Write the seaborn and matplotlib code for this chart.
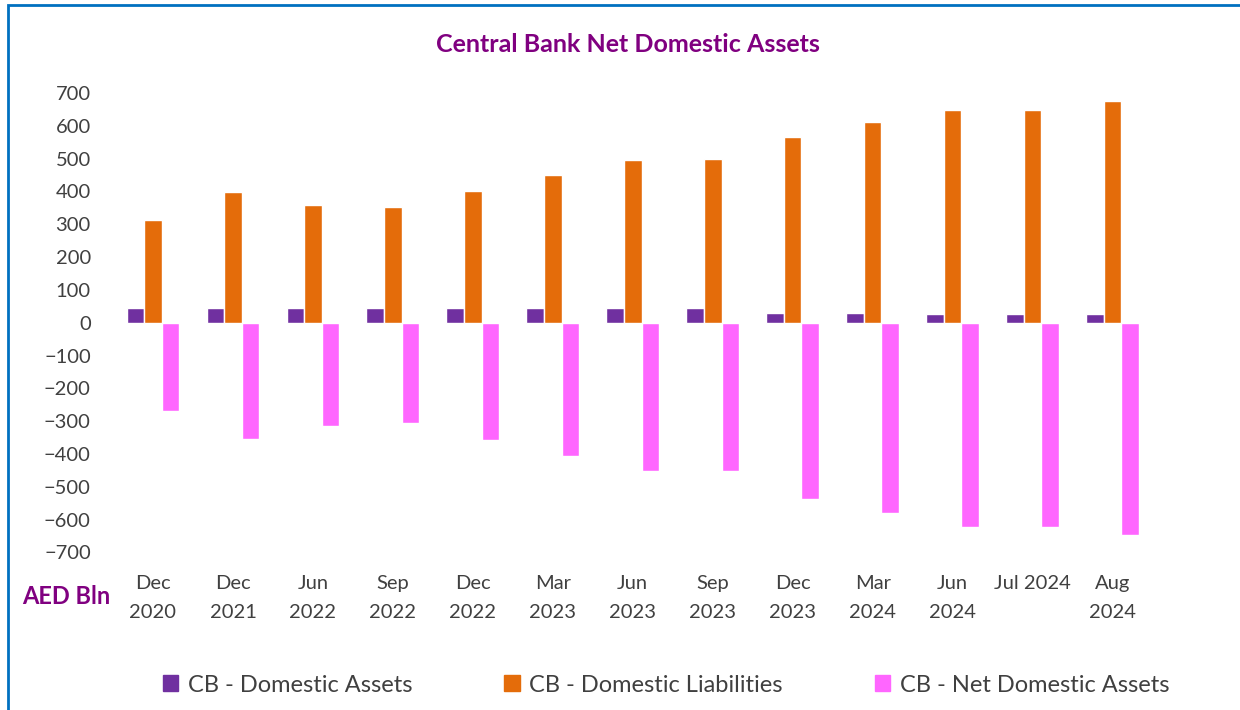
import pandas as pd
import seaborn as sns
import matplotlib.pyplot as plt
from matplotlib.patches import Rectangle

sns.set_style('white')
plt.rcParams['font.family'] = ['Lato', 'DejaVu Sans']

# data (AED Bln)
periods = ['Dec\n2020', 'Dec\n2021', 'Jun\n2022', 'Sep\n2022', 'Dec\n2022', 'Mar\n2023',
           'Jun\n2023', 'Sep\n2023', 'Dec\n2023', 'Mar\n2024', 'Jun\n2024', 'Jul 2024', 'Aug\n2024']
domestic_assets = [46, 46, 46, 46, 46, 46, 46, 46, 29, 30, 25, 25, 25]
domestic_liabilities = [314, 397, 358, 352, 400, 449, 497, 500, 565, 611, 647, 649, 676]
net_domestic_assets = [-270, -353, -315, -307, -356, -405, -451, -453, -536, -581, -622, -624, -648]

series_names = ['CB - Domestic Assets', 'CB - Domestic Liabilities', 'CB - Net Domestic Assets']
colors = ['#7030A0', '#E46C0A', '#FF66FF']

df = pd.DataFrame({'period': periods * 3,
                   'value': domestic_assets + domestic_liabilities + net_domestic_assets,
                   'series': [s for s in series_names for _ in periods]})

fig = plt.figure(figsize=(12.4, 7.1), dpi=100)
ax = fig.add_axes([113 / 1240, 1 - 552.4 / 710, (1152.5 - 113) / 1240, (552.4 - 93) / 710])

sns.barplot(data=df, x='period', y='value', hue='series', order=periods,
            hue_order=series_names, palette=colors, saturation=1, width=0.66,
            ax=ax, legend=False)

ax.set_ylim(-700, 700)
ax.set_xlim(-0.5, len(periods) - 0.5)
ax.set_yticks(range(-700, 701, 100))
ax.set_xlabel('')
ax.set_ylabel('')
for s in ax.spines.values():
    s.set_visible(False)
ax.tick_params(axis='y', length=0, pad=16, labelsize=14.5, labelcolor='#404040')
ax.tick_params(axis='x', length=0, pad=16.5, labelsize=14.5, labelcolor='#404040')
for lab in ax.get_xticklabels():
    lab.set_linespacing(1.85)

fig.text(628 / 1240, 1 - 45 / 710, 'Central Bank Net Domestic Assets', ha='center', va='center',
         fontsize=18, fontweight='bold', color='#800080')
fig.text(66 / 1240, 1 - 597 / 710, 'AED Bln', ha='center', va='center',
         fontsize=17, fontweight='bold', color='#800080')

handles = [Rectangle((0, 0), 1, 1, color=c) for c in colors]
fig.legend(handles, series_names, loc='center', bbox_to_anchor=(666 / 1240, 1 - 685 / 710),
           ncol=3, frameon=False, fontsize=17, handlelength=0.65, handleheight=0.65,
           handletextpad=0.4, columnspacing=3.9, labelcolor='#404040')

# blue frame around the chart area
fig.patches.append(Rectangle((8 / 1240, -0.1), 1.2, 1.1 - 5 / 710, transform=fig.transFigure,
                             fill=False, edgecolor='#0070C0', linewidth=2))

fig.savefig('out.png', dpi=100)
